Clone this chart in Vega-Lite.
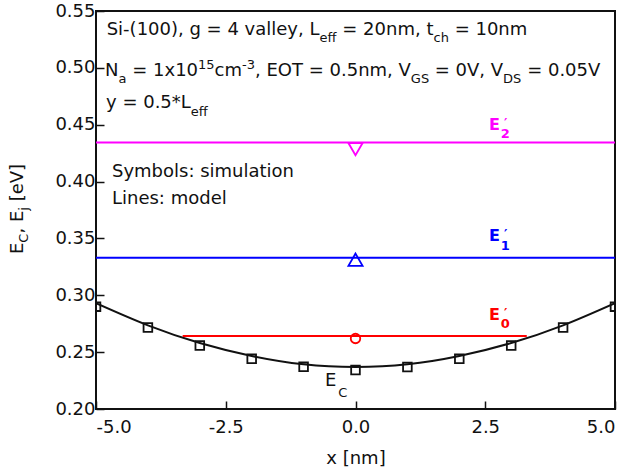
{
  "$schema": "https://vega.github.io/schema/vega-lite/v6.json",
  "width": 519,
  "height": 398,
  "autosize": "none",
  "padding": {"left": 96, "top": 11, "right": 13, "bottom": 65},
  "background": "white",
  "config": {
    "locale": {"number": {"decimal": ".", "thousands": ",", "grouping": [3], "currency": ["$", ""], "minus": "-"}},
    "view": {"stroke": "#111", "strokeWidth": 2},
    "font": "DejaVu Sans",
    "axis": {
      "domain": false, "grid": false,
      "labelFont": "DejaVu Sans", "labelFontSize": 18, "labelColor": "#111",
      "tickColor": "#111", "tickWidth": 1.5, "tickSize": -8,
      "titleFont": "DejaVu Sans", "titleFontSize": 18, "titleFontWeight": "normal", "titleColor": "#111"
    }
  },
  "datasets": {
    "lines": [
      {"s": "Ec", "x": -5, "y": 0.293},
      {"s": "Ec", "x": -4, "y": 0.2735},
      {"s": "Ec", "x": -3, "y": 0.258},
      {"s": "Ec", "x": -2, "y": 0.2466},
      {"s": "Ec", "x": -1, "y": 0.2393},
      {"s": "Ec", "x": 0, "y": 0.237},
      {"s": "Ec", "x": 1, "y": 0.2393},
      {"s": "Ec", "x": 2, "y": 0.2466},
      {"s": "Ec", "x": 3, "y": 0.258},
      {"s": "Ec", "x": 4, "y": 0.2735},
      {"s": "Ec", "x": 5, "y": 0.293},
      {"s": "E0", "x": -3.33, "y": 0.2642},
      {"s": "E0", "x": 3.3, "y": 0.2642},
      {"s": "E1", "x": -5, "y": 0.333},
      {"s": "E1", "x": 5, "y": 0.333},
      {"s": "E2", "x": -5, "y": 0.4343},
      {"s": "E2", "x": 5, "y": 0.4343}
    ],
    "pts": [
      {"s": "Ec", "x": -5, "y": 0.29},
      {"s": "Ec", "x": -4, "y": 0.2717},
      {"s": "Ec", "x": -3, "y": 0.2558},
      {"s": "Ec", "x": -2, "y": 0.2441},
      {"s": "Ec", "x": -1, "y": 0.2371},
      {"s": "Ec", "x": 0, "y": 0.2343},
      {"s": "Ec", "x": 1, "y": 0.2369},
      {"s": "Ec", "x": 2, "y": 0.2441},
      {"s": "Ec", "x": 3, "y": 0.2558},
      {"s": "Ec", "x": 4, "y": 0.2717},
      {"s": "Ec", "x": 5, "y": 0.29},
      {"s": "E0", "x": 0, "y": 0.262},
      {"s": "E1", "x": 0, "y": 0.3313},
      {"s": "E2", "x": 0, "y": 0.4285}
    ],
    "ann": [
      {"k": "m", "x": -4.794, "y": 0.5289, "t": "Si-(100), g = 4 valley, L"},
      {"k": "s", "x": -0.694, "y": 0.5227, "t": "eff"},
      {"k": "m", "x": -0.254, "y": 0.5289, "t": "= 20nm, t"},
      {"k": "s", "x": 1.503, "y": 0.5227, "t": "ch"},
      {"k": "m", "x": 1.91, "y": 0.5289, "t": "= 10nm"},
      {"k": "m", "x": -4.827, "y": 0.4928, "t": "N"},
      {"k": "s", "x": -4.566, "y": 0.4866, "t": "a"},
      {"k": "m", "x": -4.302, "y": 0.4928, "t": "= 1x10"},
      {"k": "s", "x": -3.035, "y": 0.4994, "t": "15"},
      {"k": "m", "x": -2.717, "y": 0.4928, "t": "cm"},
      {"k": "s", "x": -2.187, "y": 0.4994, "t": "-3"},
      {"k": "m", "x": -1.936, "y": 0.4928, "t": ", EOT = 0.5nm, V"},
      {"k": "s", "x": 1.066, "y": 0.4866, "t": "GS"},
      {"k": "m", "x": 1.528, "y": 0.4928, "t": "= 0V, V"},
      {"k": "s", "x": 2.844, "y": 0.4866, "t": "DS"},
      {"k": "m", "x": 3.307, "y": 0.4928, "t": "= 0.05V"},
      {"k": "m", "x": -4.807, "y": 0.4643, "t": "y = 0.5*L"},
      {"k": "s", "x": -3.173, "y": 0.4581, "t": "eff"},
      {"k": "m", "x": -4.692, "y": 0.4036, "t": "Symbols: simulation"},
      {"k": "m", "x": -4.692, "y": 0.3807, "t": "Lines: model"},
      {"k": "m", "x": -0.588, "y": 0.2202, "t": "E"},
      {"k": "s", "x": -0.331, "y": 0.2108, "t": "C"}
    ],
    "labs": [
      {"s": "E2", "k": "m", "x": 2.572, "y": 0.4454, "t": "E"},
      {"s": "E2", "k": "s", "x": 2.798, "y": 0.4386, "t": "2"},
      {"s": "E2", "k": "s", "x": 2.862, "y": 0.4482, "t": "′"},
      {"s": "E1", "k": "m", "x": 2.572, "y": 0.3477, "t": "E"},
      {"s": "E1", "k": "s", "x": 2.798, "y": 0.3398, "t": "1"},
      {"s": "E1", "k": "s", "x": 2.862, "y": 0.3501, "t": "′"},
      {"s": "E0", "k": "m", "x": 2.572, "y": 0.2783, "t": "E"},
      {"s": "E0", "k": "s", "x": 2.798, "y": 0.2715, "t": "0"},
      {"s": "E0", "k": "s", "x": 2.862, "y": 0.2806, "t": "′"}
    ],
    "ytitle": [
      {"k": "m", "x": -6.412, "y": 0.3363, "t": "E"},
      {"k": "s", "x": -6.316, "y": 0.3463, "t": "C"},
      {"k": "m", "x": -6.412, "y": 0.3543, "t": ", E"},
      {"k": "s", "x": -6.316, "y": 0.3743, "t": "j"},
      {"k": "m", "x": -6.412, "y": 0.3826, "t": "[eV]"}
    ]
  },
  "encoding": {
    "x": {
      "field": "x", "type": "quantitative",
      "scale": {"domain": [-5, 5], "nice": false, "zero": false},
      "axis": {"values": [-5, -2.5, 0, 2.5, 5], "format": ".1f", "title": "x [nm]", "labelPadding": 17, "titlePadding": 13}
    },
    "y": {
      "field": "y", "type": "quantitative",
      "scale": {"domain": [0.2, 0.55], "nice": false, "zero": false},
      "axis": {"values": [0.2, 0.25, 0.3, 0.35, 0.4, 0.45, 0.5, 0.55], "format": ".2f", "title": null, "labelPadding": 9}
    },
    "color": {"field": "s", "type": "nominal", "scale": {"domain": ["Ec", "E0", "E1", "E2"], "range": ["#111111", "#ff0000", "#0000ff", "#ff00ff"]}, "legend": null}
  },
  "layer": [
    {
      "data": {"name": "lines"},
      "mark": {"type": "line", "interpolate": "natural", "strokeWidth": 2, "clip": true}
    },
    {
      "data": {"name": "pts"},
      "transform": [{"filter": "datum.s == 'Ec'"}],
      "mark": {"type": "point", "shape": "square", "filled": false, "strokeWidth": 1.8, "size": 75, "opacity": 1, "clip": true}
    },
    {
      "data": {"name": "pts"},
      "transform": [{"filter": "datum.s == 'E0'"}],
      "mark": {"type": "point", "shape": "circle", "filled": false, "strokeWidth": 1.8, "size": 90, "opacity": 1, "clip": true}
    },
    {
      "data": {"name": "pts"},
      "transform": [{"filter": "datum.s == 'E1'"}],
      "mark": {"type": "point", "shape": "triangle-up", "filled": false, "strokeWidth": 1.8, "size": 200, "opacity": 1, "clip": true}
    },
    {
      "data": {"name": "pts"},
      "transform": [{"filter": "datum.s == 'E2'"}],
      "mark": {"type": "point", "shape": "triangle-down", "filled": false, "strokeWidth": 1.8, "size": 200, "opacity": 1, "clip": true}
    },
    {
      "data": {"name": "ann"},
      "transform": [{"filter": "datum.k == 'm'"}],
      "mark": {"type": "text", "align": "left", "baseline": "alphabetic", "fontSize": 18, "font": "DejaVu Sans", "color": "#111"},
      "encoding": {"text": {"field": "t"}, "color": {"value": "#111"}}
    },
    {
      "data": {"name": "ann"},
      "transform": [{"filter": "datum.k == 's'"}],
      "mark": {"type": "text", "align": "left", "baseline": "alphabetic", "fontSize": 13, "font": "DejaVu Sans", "color": "#111"},
      "encoding": {"text": {"field": "t"}, "color": {"value": "#111"}}
    },
    {
      "data": {"name": "labs"},
      "transform": [{"filter": "datum.k == 'm'"}],
      "mark": {"type": "text", "align": "left", "baseline": "alphabetic", "fontSize": 16, "fontWeight": "bold", "font": "DejaVu Sans"},
      "encoding": {"text": {"field": "t"}}
    },
    {
      "data": {"name": "labs"},
      "transform": [{"filter": "datum.k == 's'"}],
      "mark": {"type": "text", "align": "left", "baseline": "alphabetic", "fontSize": 13, "fontWeight": "bold", "font": "DejaVu Sans"},
      "encoding": {"text": {"field": "t"}}
    },
    {
      "data": {"name": "ytitle"},
      "transform": [{"filter": "datum.k == 'm'"}],
      "mark": {"type": "text", "align": "left", "baseline": "alphabetic", "angle": 270, "fontSize": 18, "font": "DejaVu Sans"},
      "encoding": {"text": {"field": "t"}, "color": {"value": "#111"}}
    },
    {
      "data": {"name": "ytitle"},
      "transform": [{"filter": "datum.k == 's'"}],
      "mark": {"type": "text", "align": "left", "baseline": "alphabetic", "angle": 270, "fontSize": 13, "font": "DejaVu Sans"},
      "encoding": {"text": {"field": "t"}, "color": {"value": "#111"}}
    }
  ]
}
